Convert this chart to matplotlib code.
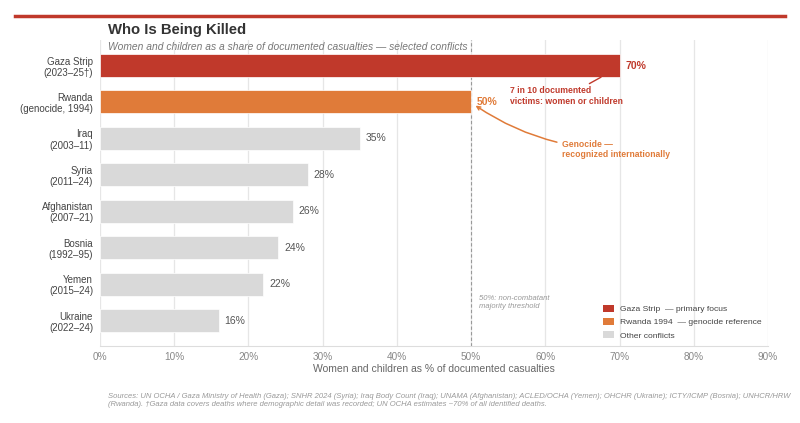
import matplotlib
matplotlib.use("Agg")
import matplotlib.pyplot as plt
from matplotlib.patches import Patch
from matplotlib.lines import Line2D

plt.rcParams['font.family'] = ['Liberation Sans', 'DejaVu Sans']

categories = ["Gaza Strip\n(2023–25†)", "Rwanda\n(genocide, 1994)", "Iraq\n(2003–11)",
              "Syria\n(2011–24)", "Afghanistan\n(2007–21)", "Bosnia\n(1992–95)",
              "Yemen\n(2015–24)", "Ukraine\n(2022–24)"]
values = [70, 50, 35, 28, 26, 24, 22, 16]
xticks = [0, 10, 20, 30, 40, 50, 60, 70, 80, 90]
xtick_labels = [f"{t}%" for t in xticks]
legend_labels = ["Gaza Strip  — primary focus", "Rwanda 1994  — genocide reference", "Other conflicts"]

RED = "#C0392B"
ORANGE = "#E07B39"
GRAY = "#D9D9D9"
colors = [RED, ORANGE] + [GRAY] * (len(values) - 2)

fig = plt.figure(figsize=(8, 4.23), dpi=100)
ax = fig.add_axes([0.125, 0.182, 0.835, 0.7234])

y = list(range(len(values)))
ax.barh(y, values, height=0.63, color=colors, edgecolor="white", linewidth=0.5, zorder=3)
ax.set_ylim(7.7, -0.7)
ax.set_xlim(0, 90)
ax.set_yticks(y)
ax.set_yticklabels(categories, fontsize=7, color="#444444", linespacing=1.15)
ax.set_xticks(xticks)
ax.set_xticklabels(xtick_labels, fontsize=7.2, color="#888888")
ax.tick_params(axis='both', length=0)
ax.tick_params(axis='y', pad=5)
ax.tick_params(axis='x', pad=4)
ax.grid(axis='x', color="#E6E6E6", linewidth=0.9, zorder=0)
for s in ["top", "right", "left"]:
    ax.spines[s].set_visible(False)
ax.spines["bottom"].set_color("#DDDDDD")
ax.set_xlabel("Women and children as % of documented casualties", fontsize=7.5, color="#666666", labelpad=2)

# value labels
for i, v in enumerate(values):
    if i == 0:
        ax.text(v + 0.8, i, f"{v}%", va="center", ha="left", fontsize=7.5, color=RED, fontweight="bold", zorder=5)
    elif i == 1:
        ax.text(v + 0.8, i, f"{v}%", va="center", ha="left", fontsize=7.5, color=ORANGE, fontweight="bold", zorder=5)
    else:
        ax.text(v + 0.8, i, f"{v}%", va="center", ha="left", fontsize=7.5, color="#555555", zorder=5)

# threshold line
ax.axvline(50, color="#999999", linestyle=(0, (3, 2)), linewidth=0.8, zorder=2)
ax.text(51, 6.5, "50%: non-combatant\nmajority threshold", fontsize=5.5, color="#999999",
        style="italic", va="center", ha="left", linespacing=1.3)

# annotations
ax.annotate("7 in 10 documented\nvictims: women or children", xy=(67.5, 0.32), xytext=(55.3, 0.84),
            fontsize=6.2, color=RED, fontweight="bold", ha="left", va="center", linespacing=1.2,
            arrowprops=dict(arrowstyle="-", color=RED, lw=1, shrinkA=0, shrinkB=0), zorder=5)
ax.annotate("Genocide —\nrecognized internationally", xy=(50.6, 1.1), xytext=(62.3, 2.31),
            fontsize=6.2, color=ORANGE, fontweight="bold", ha="left", va="center", linespacing=1.2,
            arrowprops=dict(arrowstyle="->", color=ORANGE, lw=1.1, shrinkA=2, shrinkB=0,
                            connectionstyle="arc3,rad=-0.15"), zorder=5)

# legend
handles = [Patch(facecolor=c) for c in [RED, ORANGE, GRAY]]
leg = ax.legend(handles, legend_labels, loc="lower right", bbox_to_anchor=(1.0, 0.0), frameon=False,
                fontsize=6.1, handlelength=1.3, handleheight=0.95, handletextpad=0.7, labelspacing=0.55,
                borderaxespad=0.35)
for t in leg.get_texts():
    t.set_color("#444444")

# titles and decorations
fig.add_artist(Line2D([0.019, 0.981], [0.962, 0.962], color=RED, linewidth=2.5, transform=fig.transFigure))
fig.text(0.135, 0.929, "Who Is Being Killed", fontsize=10.7, fontweight="bold", color="#333333", va="center", ha="left")
fig.text(0.135, 0.890, "Women and children as a share of documented casualties — selected conflicts",
         fontsize=7.4, style="italic", color="#777777", va="center", ha="left")
fig.text(0.135, 0.036, "Sources: UN OCHA / Gaza Ministry of Health (Gaza); SNHR 2024 (Syria); Iraq Body Count (Iraq); "
         "UNAMA (Afghanistan); ACLED/OCHA (Yemen); OHCHR (Ukraine); ICTY/ICMP (Bosnia); UNHCR/HRW\n"
         "(Rwanda). †Gaza data covers deaths where demographic detail was recorded; UN OCHA estimates ~70% of all identified deaths.",
         fontsize=5.5, style="italic", color="#999999", va="bottom", ha="left", linespacing=1.25)

fig.savefig("out.png", dpi=100)
